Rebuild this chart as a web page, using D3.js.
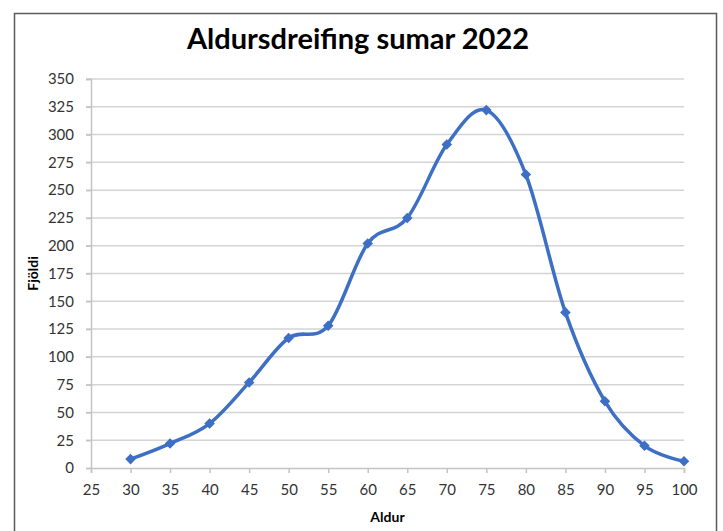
<!DOCTYPE html>
<html>
<head>
<meta charset="utf-8">
<script src="https://cdn.jsdelivr.net/npm/d3@7"></script>
<style>
  body { margin: 0; background: #fff; }
  text { font-family: Lato, "Open Sans", sans-serif; }
</style>
</head>
<body>
<div id="grafica"></div>
<script>
// gögn lesin af myndinni
const aldur = [30, 35, 40, 45, 50, 55, 60, 65, 70, 75, 80, 85, 90, 95, 100]
const fjoldi = [8, 22, 40, 77, 117, 128, 202, 225, 291, 322, 264, 140, 60, 20, 6]
const xTicks = [25, 30, 35, 40, 45, 50, 55, 60, 65, 70, 75, 80, 85, 90, 95, 100]
const yTicks = [0, 25, 50, 75, 100, 125, 150, 175, 200, 225, 250, 275, 300, 325, 350]

const W = 723, H = 531
const margin = { top: 79, right: 39, bottom: 63, left: 91 }
const width = W - margin.left - margin.right
const height = H - margin.top - margin.bottom
const lineColor = '#3d6fc5'
const gridColor = '#d4d4d4'

const root = d3.select('#grafica')
    .append('svg')
    .attr('width', W)
    .attr('height', H)

// rammi
root.append('rect')
    .attr('x', 14.5).attr('y', 13.5)
    .attr('width', 702).attr('height', 540)
    .attr('fill', 'none')
    .attr('stroke', '#5a5a5a')
    .attr('stroke-width', 1.5)

const svg = root.append('g')
    .attr('transform', `translate(${margin.left}, ${margin.top})`)

const x = d3.scaleLinear()
    .domain([25, 100])
    .range([0, width])

const y = d3.scaleLinear()
    .domain([0, 350])
    .range([height, 0])

// gridlines
svg.append('g')
    .attr('class', 'grid')
    .selectAll('line')
    .data(yTicks.slice(1))
    .enter().append('line')
    .attr('x1', -5)
    .attr('x2', width)
    .attr('y1', d => y(d))
    .attr('y2', d => y(d))
    .attr('stroke', gridColor)
    .attr('stroke-width', 1.5)

const xAxis = svg.append('g')
    .attr('class', 'x axis')
    .attr('transform', `translate(0, ${height})`)
    .call(d3.axisBottom(x).tickValues(xTicks).tickSize(5).tickPadding(11))

const yAxis = svg.append('g')
    .attr('class', 'y axis')
    .call(d3.axisLeft(y).tickValues(yTicks).tickSize(5).tickPadding(12))

svg.selectAll('.axis path, .axis line')
    .attr('stroke', '#c4c4c4')
    .attr('stroke-width', 1.5)
svg.selectAll('.axis text')
    .style('font-family', 'Lato, sans-serif')
    .style('font-size', '15px')
    .attr('fill', '#333')

const punktar = aldur.map((a, i) => ({ a: a, n: fjoldi[i] }))

const line = d3.line()
    .x(d => x(d.a))
    .y(d => y(d.n))
    .curve(d3.curveCardinal.tension(0))

svg.append('path')
    .datum(punktar)
    .attr('d', line)
    .attr('fill', 'none')
    .attr('stroke', lineColor)
    .attr('stroke-width', 3.5)

// tígullaga punktar (ferningur snúinn 45°)
svg.selectAll('.punktur')
    .data(punktar)
    .enter().append('path')
    .attr('class', 'punktur')
    .attr('d', d3.symbol().type(d3.symbolSquare).size(56))
    .attr('transform', d => `translate(${x(d.a)}, ${y(d.n)}) rotate(45)`)
    .attr('fill', lineColor)

// titill
root.append('text')
    .attr('x', 358)
    .attr('y', 49)
    .style('text-anchor', 'middle')
    .style('font-size', '29px')
    .style('font-weight', 'bold')
    .attr('fill', '#000')
    .text('Aldursdreifing sumar 2022')

root.append('text')
    .attr('transform', `translate(38, ${margin.top + height / 2}) rotate(-90)`)
    .style('text-anchor', 'middle')
    .style('font-size', '14px')
    .style('font-weight', 'bold')
    .attr('fill', '#000')
    .text('Fjöldi')

root.append('text')
    .attr('x', margin.left + width / 2)
    .attr('y', 522)
    .style('text-anchor', 'middle')
    .style('font-size', '14px')
    .style('font-weight', 'bold')
    .attr('fill', '#000')
    .text('Aldur')
</script>
</body>
</html>
